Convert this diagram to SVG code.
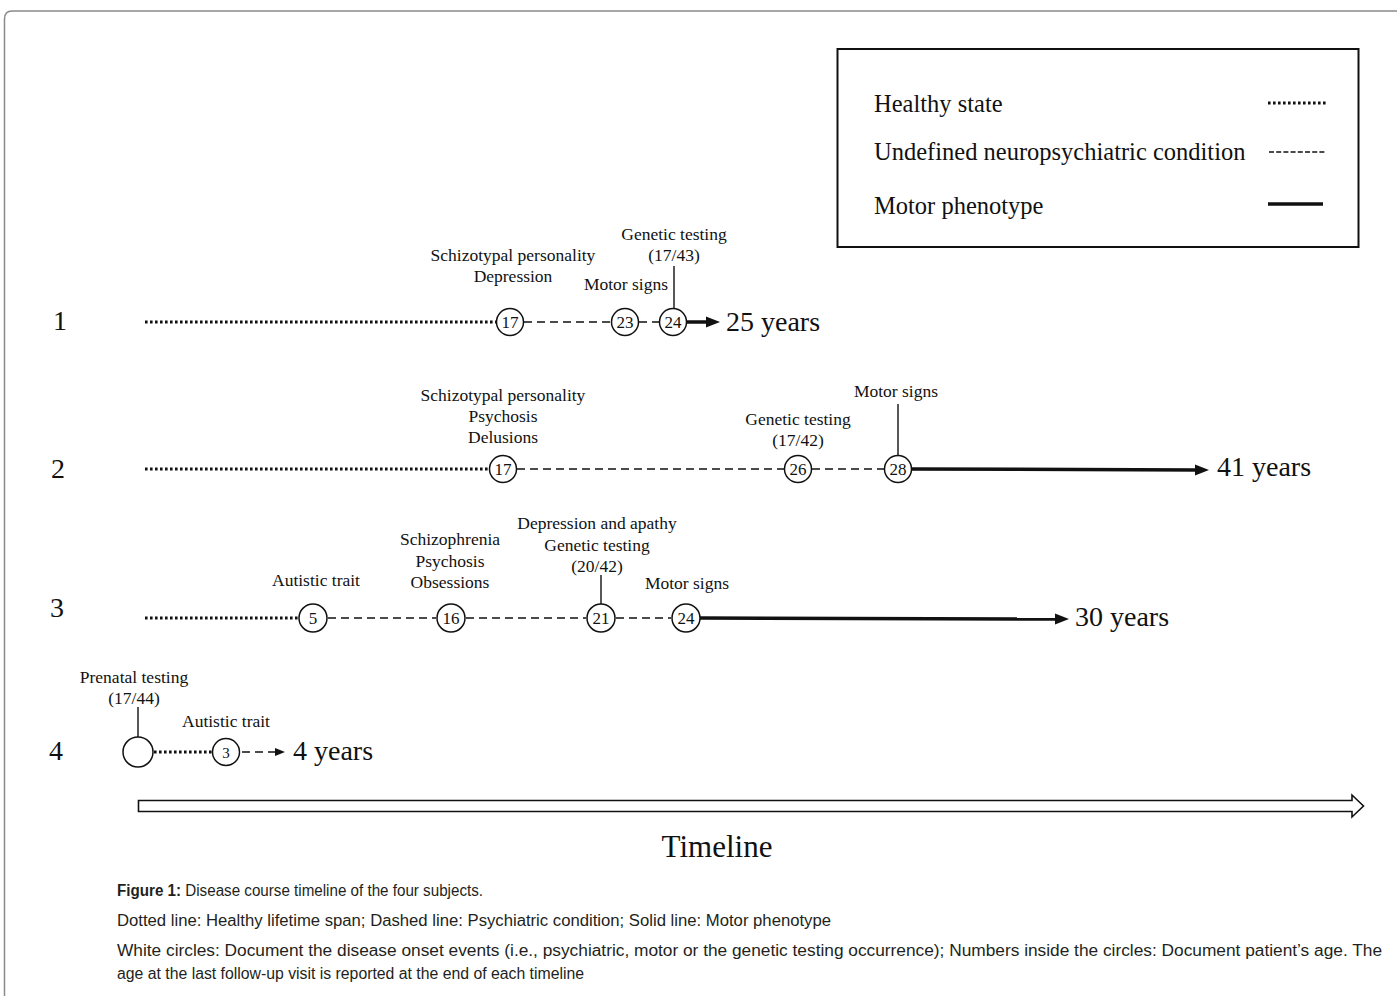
<svg xmlns="http://www.w3.org/2000/svg" width="1397" height="996" viewBox="0 0 1397 996">
<style>
.t{font-family:"Liberation Serif","Times New Roman",serif;fill:#111}
.lab{font-size:17.5px;text-anchor:middle}
.leg{font-size:24.5px}
.num{font-size:17px;text-anchor:middle}
.big{font-size:28px}
.cap{font-family:"Liberation Sans",Arial,sans-serif;font-size:16px;fill:#231f20}
.dot{stroke:#111;stroke-width:3;stroke-dasharray:2.6 2.4;fill:none}
.dash{stroke:#111;stroke-width:1.4;stroke-dasharray:8 5;fill:none}
.solid{stroke:#111;stroke-width:3.5;fill:none}
.tick{stroke:#111;stroke-width:1.4}
.c{fill:#fff;stroke:#111;stroke-width:1.5}
.head{fill:#111}
</style>
<rect width="1397" height="996" fill="#fff"/>
<path d="M4.5 996 V19 Q4.5 11 12 11 H1397" fill="none" stroke="#8a8a8a" stroke-width="1.5"/>

<g id="legend">
<rect x="837.5" y="49" width="521" height="198" fill="none" stroke="#111" stroke-width="2"/>
<text class="t leg" x="874" y="112">Healthy state</text>
<text class="t leg" x="874" y="160">Undefined neuropsychiatric condition</text>
<text class="t leg" x="874" y="214">Motor phenotype</text>
<line class="dot" x1="1268" y1="103" x2="1326" y2="103"/>
<line x1="1269" y1="152" x2="1325" y2="152" stroke="#111" stroke-width="1.4" stroke-dasharray="5 2.2"/>
<line class="solid" x1="1268" y1="204" x2="1323" y2="204"/>
</g>

<g id="connectors">
<!-- row 1 -->
<line class="dot" x1="145" y1="322" x2="497" y2="322"/>
<line class="dash" x1="524" y1="322" x2="611" y2="322"/>
<line class="dash" x1="639" y1="322" x2="659" y2="322"/>
<line class="solid" x1="687" y1="322" x2="708" y2="322"/>
<polygon class="head" points="706,316.5 720,322 706,327.5"/>
<line class="tick" x1="674" y1="266" x2="674" y2="309"/>
<!-- row 2 -->
<line class="dot" x1="145" y1="469" x2="489" y2="469"/>
<line class="dash" x1="517" y1="469" x2="784" y2="469"/>
<line class="dash" x1="812" y1="469" x2="884" y2="469"/>
<line class="solid" x1="912" y1="469" x2="1197" y2="470"/>
<polygon class="head" points="1195,464.5 1209,470 1195,475.5"/>
<line class="tick" x1="898" y1="404" x2="898" y2="456"/>
<!-- row 3 -->
<line class="dot" x1="145" y1="618" x2="298" y2="618"/>
<line class="dash" x1="328" y1="618" x2="436" y2="618"/>
<line class="dash" x1="466" y1="618" x2="586" y2="618"/>
<line class="dash" x1="616" y1="618" x2="671" y2="618"/>
<line class="solid" x1="700" y1="618" x2="1057" y2="619"/>
<polygon class="head" points="1055,613.5 1069,619 1055,624.5"/>
<line class="tick" x1="601" y1="575" x2="601" y2="605"/>
<!-- row 4 -->
<line class="tick" x1="138" y1="707" x2="138" y2="737"/>
<line class="dot" x1="154" y1="752" x2="212" y2="752"/>
<line class="dash" x1="242" y1="752" x2="278" y2="752"/>
<polygon class="head" points="275,748 285,752 275,756"/>
</g>

<g id="row1">
<text class="t big" x="53" y="330">1</text>
<text class="t lab" x="513" y="261">Schizotypal personality</text>
<text class="t lab" x="513" y="282">Depression</text>
<text class="t lab" x="626" y="290">Motor signs</text>
<text class="t lab" x="674" y="240">Genetic testing</text>
<text class="t lab" x="674" y="261">(17/43)</text>
<circle class="c" cx="510" cy="322" r="13.5"/><text class="t num" x="510" y="328">17</text>
<circle class="c" cx="625" cy="322" r="13.5"/><text class="t num" x="625" y="328">23</text>
<circle class="c" cx="673" cy="322" r="13.5"/><text class="t num" x="673" y="328">24</text>
<text class="t big" x="726" y="331">25 years</text>
</g>

<g id="row2">
<text class="t big" x="51" y="478">2</text>
<text class="t lab" x="503" y="401">Schizotypal personality</text>
<text class="t lab" x="503" y="422">Psychosis</text>
<text class="t lab" x="503" y="443">Delusions</text>
<text class="t lab" x="798" y="425">Genetic testing</text>
<text class="t lab" x="798" y="446">(17/42)</text>
<text class="t lab" x="896" y="397">Motor signs</text>
<circle class="c" cx="503" cy="469" r="13.5"/><text class="t num" x="503" y="475">17</text>
<circle class="c" cx="798" cy="469" r="13.5"/><text class="t num" x="798" y="475">26</text>
<circle class="c" cx="898" cy="469" r="13.5"/><text class="t num" x="898" y="475">28</text>
<text class="t big" x="1217" y="476">41 years</text>
</g>

<g id="row3">
<text class="t big" x="50" y="617">3</text>
<text class="t lab" x="316" y="586">Autistic trait</text>
<text class="t lab" x="450" y="545">Schizophrenia</text>
<text class="t lab" x="450" y="567">Psychosis</text>
<text class="t lab" x="450" y="588">Obsessions</text>
<text class="t lab" x="597" y="529">Depression and apathy</text>
<text class="t lab" x="597" y="551">Genetic testing</text>
<text class="t lab" x="597" y="572">(20/42)</text>
<text class="t lab" x="687" y="589">Motor signs</text>
<circle class="c" cx="313" cy="618" r="14"/><text class="t num" x="313" y="624">5</text>
<circle class="c" cx="451" cy="618" r="14"/><text class="t num" x="451" y="624">16</text>
<circle class="c" cx="601" cy="618" r="14"/><text class="t num" x="601" y="624">21</text>
<circle class="c" cx="686" cy="618" r="14"/><text class="t num" x="686" y="624">24</text>
<text class="t big" x="1075" y="626">30 years</text>
</g>

<g id="row4">
<text class="t big" x="49" y="760">4</text>
<text class="t lab" x="134" y="683">Prenatal testing</text>
<text class="t lab" x="134" y="704">(17/44)</text>
<text class="t lab" x="226" y="727">Autistic trait</text>
<circle class="c" cx="138" cy="752" r="15"/>
<circle class="c" cx="226" cy="752" r="13.5"/><text class="t num" x="226" y="758" style="font-size:15px">3</text>
<text class="t big" x="293" y="760">4 years</text>
</g>

<g id="timeline">
<path d="M138.5 800.5 H1352 V795 L1363.5 806 L1352 817 V811.5 H138.5 Z" fill="#fff" stroke="#111" stroke-width="1.6"/>
<text class="t" x="717" y="857" text-anchor="middle" style="font-size:31px">Timeline</text>
</g>

<g id="caption">
<text class="cap" x="117" y="896" textLength="366" lengthAdjust="spacingAndGlyphs"><tspan font-weight="bold">Figure 1:</tspan> Disease course timeline of the four subjects.</text>
<text class="cap" x="117" y="926" textLength="714" lengthAdjust="spacingAndGlyphs">Dotted line: Healthy lifetime span; Dashed line: Psychiatric condition; Solid line: Motor phenotype</text>
<text class="cap" x="117" y="956" textLength="1265" lengthAdjust="spacingAndGlyphs">White circles: Document the disease onset events (i.e., psychiatric, motor or the genetic testing occurrence); Numbers inside the circles: Document patient’s age. The</text>
<text class="cap" x="117" y="979" textLength="467" lengthAdjust="spacingAndGlyphs">age at the last follow-up visit is reported at the end of each timeline</text>
</g>
</svg>
